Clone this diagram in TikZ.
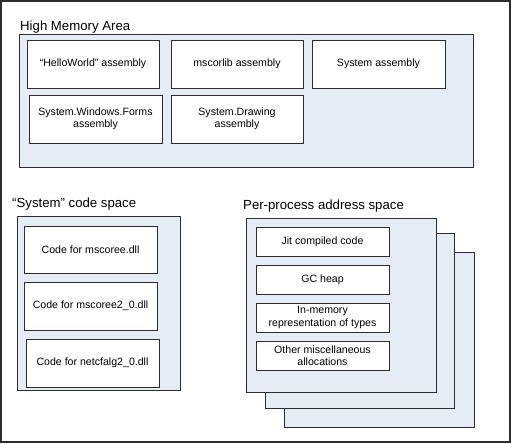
\documentclass[tikz,border=0pt]{standalone}
\usepackage{fontspec}
\setmainfont{Liberation Sans}
\usepackage{tikz}
\definecolor{areablue}{RGB}{230,236,246}
\definecolor{edgegray}{RGB}{45,45,45}

\begin{document}
\begin{tikzpicture}[x=1pt, y=-1pt,
		area/.style={draw=edgegray, rectangle, fill=areablue, line width=0.9pt},
		box/.style={draw=edgegray, rectangle, fill=white, line width=0.9pt, align=center, inner sep=1pt, font=\fontsize{10.6}{12.5}\selectfont},
		title/.style={anchor=base west, inner sep=0pt, font=\fontsize{13.2}{15}\selectfont}]
				\useasboundingbox (0, 0) rectangle (512, 444);
				\draw[edgegray, line width=1.4pt] (1, 1) rectangle (510, 442);
				% high memory area
				\node[title] (HMAt)at(20, 31) {High Memory Area};
				\node[area, minimum width=454, minimum height=133] (HMA)at(246, 100.5) {};
				\node[box, minimum width=132, minimum height=48] (HW)at(93, 64) {``HelloWorld'' assembly};
				\node[box, minimum width=132, minimum height=48] (MSC)at(237, 64) {mscorlib assembly};
				\node[box, minimum width=133, minimum height=48] (SYS)at(378.5, 64) {System assembly};
				\node[box, minimum width=133, minimum height=48] (SWF)at(95.5, 119) {System.Windows.Forms\\assembly};
				\node[box, minimum width=132, minimum height=48] (SD)at(237, 119) {System.Drawing\\assembly};
				% system code space
				\node[title] (CSt)at(12, 207) {``System'' code space};
				\node[area, minimum width=163, minimum height=174] (CS)at(98.5, 303) {};
				\node[box, minimum width=133, minimum height=47] (C1)at(90.5, 249.5) {Code for mscoree.dll};
				\node[box, minimum width=133, minimum height=48] (C2)at(90.5, 306) {Code for mscoree2\_0.dll};
				\node[box, minimum width=133, minimum height=48] (C3)at(92.5, 363) {Code for netcfalg2\_0.dll};
				% per-process address space
				\node[title] (PPt)at(243, 209) {Per-process address space};
				\node[area, minimum width=190, minimum height=175] (PP3)at(379, 339.5) {};
				\node[area, minimum width=189, minimum height=175] (PP2)at(359.5, 320.5) {};
				\node[area, minimum width=190, minimum height=174] (PP1)at(341, 305) {};
				\node[box, minimum width=133, minimum height=29] (JIT)at(322.5, 241.5) {Jit compiled code};
				\node[box, minimum width=133, minimum height=29] (GC)at(322.5, 279.5) {GC heap};
				\node[box, minimum width=133, minimum height=29] (IMR)at(322.5, 317.5) {In-memory\\representation of types};
				\node[box, minimum width=133, minimum height=29] (OMA)at(322.5, 355.5) {Other miscellaneous\\allocations};
			\end{tikzpicture}
\end{document}
